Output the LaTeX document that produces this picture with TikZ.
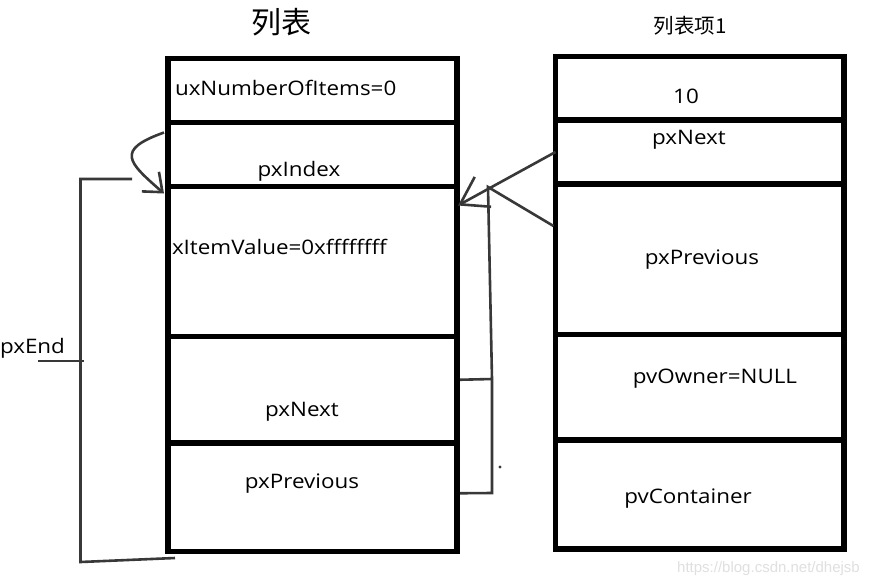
\documentclass[tikz,border=0pt]{standalone}
\usepackage{fontspec}
\setmainfont{Open Sans}[FakeStretch=1.12]
\newfontfamily\cjk{Noto Sans CJK SC}
\newfontfamily\wmfont{Liberation Sans}
\usetikzlibrary{arrows.meta,calc}
\begin{document}
\begin{tikzpicture}[x=1pt,y=-1pt,
  cell/.style={draw=black,line width=5.5pt,inner sep=0pt,outer sep=0pt,minimum width=289pt},
  lbl/.style={inner sep=0pt,outer sep=0pt,font=\fontsize{20}{22}\selectfont},
  conn/.style={draw=black!78,line width=2.6pt},
  barbA/.style={-{Straight Barb[length=16pt,width=26pt,line width=2.6pt]}},
  barbB/.style={-{Straight Barb[length=26pt,width=34pt,line width=2.6pt]}}]
\useasboundingbox[fill=white] (0,0) rectangle (878,587);
% left list cells
\node[cell,minimum height=64pt]    (l1) at (312.5,90.5) {};
\node[cell,minimum height=64pt]    (l2) at (312.5,154.5) {};
\node[cell,minimum height=150pt]   (l3) at (312.5,261.5) {};
\node[cell,minimum height=106.5pt] (l4) at (312.5,389.75) {};
\node[cell,minimum height=108.5pt] (l5) at (312.5,497.25) {};
% right item cells
\node[cell,minimum width=288.5pt,minimum height=63.5pt]  (r1) at (699.75,88.25) {};
\node[cell,minimum width=288.5pt,minimum height=64pt]    (r2) at (699.75,152) {};
\node[cell,minimum width=288.5pt,minimum height=150.5pt] (r3) at (699.75,259.25) {};
\node[cell,minimum width=288.5pt,minimum height=105.5pt] (r4) at (699.75,387.25) {};
\node[cell,minimum width=288.5pt,minimum height=109pt]   (r5) at (699.75,494.5) {};
% titles
\node[inner sep=0pt,font=\cjk\fontsize{30}{32}\selectfont] (t1) at (281,22) {列表};
\node[inner sep=0pt,font=\cjk\fontsize{20.5}{22}\selectfont] (t2) at (690,26) {列表项1};
% texts
\node[lbl,anchor=base west] (tx1) at (175,95) {uxNumberOfItems=0};
\node[lbl,anchor=base] (tx2) at (299,176.5) {pxIndex};
\node[lbl,anchor=base west] (tx3) at (172,254) {xItemValue=0xffffffff};
\node[lbl,anchor=base] (tx4) at (302,416) {pxNext};
\node[lbl,anchor=base] (tx5) at (302,488) {pxPrevious};
\node[lbl,anchor=base] (ty1) at (686,103.5) {10};
\node[lbl,anchor=base] (ty2) at (689,144.5) {pxNext};
\node[lbl,anchor=base] (ty3) at (702,264) {pxPrevious};
\node[lbl,anchor=base] (ty4) at (715,383) {pvOwner=NULL};
\node[lbl,anchor=base] (ty5) at (688,503) {pvContainer};
\node[lbl,anchor=base west] (pe) at (0,353) {pxEnd};
% connector points
\coordinate (e1) at (132,179);
\coordinate (e2) at (80.5,179);
\coordinate (e3) at (80.5,562);
\coordinate (e4) at (175,558);
\coordinate (et1) at (38,361);
\coordinate (et2) at (84,361);
\coordinate (jt) at (488,187);
\coordinate (jm) at (492,379);
\coordinate (jb) at (492,493);
% pxEnd bracket
\draw[conn] (e1) -- (e2) -- (e3) -- (e4);
\draw[conn] (et1) -- (et2);
% pxIndex self arrow
\draw[conn,barbA] ($(l2.north west)+(-4,10)$) .. controls (115,150) and (128,162) .. ($(l3.north west)+(-4,7)$);
% item pxNext -> list end
\draw[conn,barbB] (r2.west) -- ($(l3.north east)+(1,19)$);
% item pxPrevious -> list end, list pxNext / pxPrevious
\draw[conn] ($(r3.north west)+(-2,42)$) -- (jt) -- (jm) -- (jb) -- ($(l5.east)+(3,-4)$);
\draw[conn] ($(l4.east)+(3,-10)$) -- (jm);
\fill[black!78] (500,467) circle (1.6pt);
% watermark
\node[inner sep=0pt,anchor=base west,text=black!12,font=\wmfont\fontsize{15}{16}\selectfont] (wm) at (677,572) {https://blog.csdn.net/dhejsb};
\end{tikzpicture}
\end{document}
